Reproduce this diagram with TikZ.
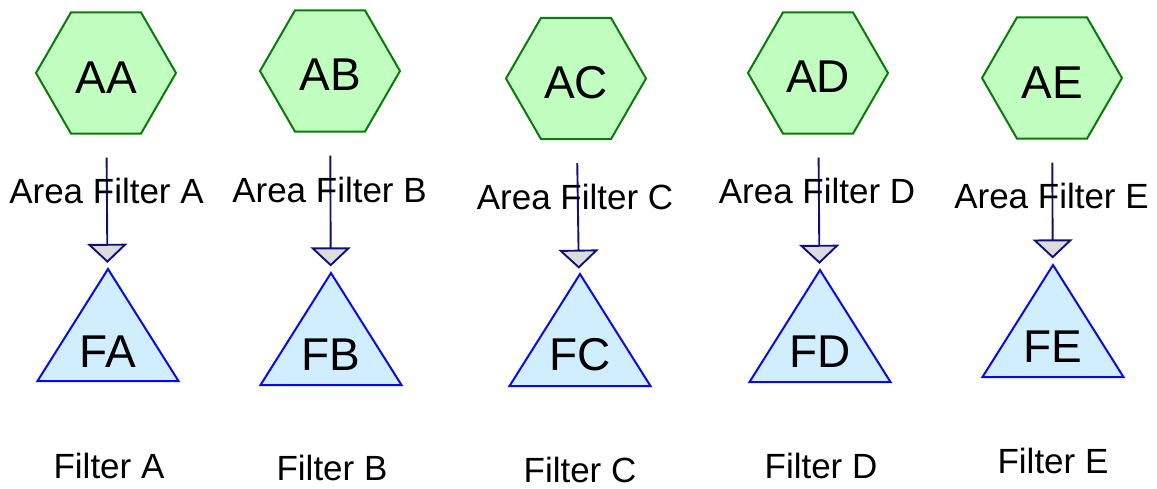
\documentclass[tikz,border=0pt]{standalone}
\usepackage{fontspec}
\setmainfont{Liberation Sans}
\usetikzlibrary{shapes.geometric,arrows.meta}
\definecolor{hexfill}{HTML}{C0FFC0}
\definecolor{hexline}{HTML}{0A7A0A}
\definecolor{trifill}{HTML}{D0EEFF}
\definecolor{triline}{HTML}{0A0AE6}
\definecolor{connline}{HTML}{10107A}
\definecolor{tipfill}{HTML}{DCDCDC}
\begin{document}
\begin{tikzpicture}[x=1pt,y=-1pt,
  hexnode/.style={regular polygon, regular polygon sides=6, minimum size=140pt,
    inner sep=0pt, outer sep=0pt, draw=hexline, fill=hexfill, line width=2pt},
  trinode/.style={isosceles triangle, shape border rotate=90, isosceles triangle stretches,
    minimum width=141pt, minimum height=112pt, inner sep=0pt, outer sep=0pt,
    draw=triline, fill=trifill, line width=2pt, anchor=apex},
  conn/.style={draw=connline, line width=1.9pt, shorten <=24pt, shorten >=7pt,
    -{Triangle[width=40pt,length=19pt,fill=tipfill]}},
  bigtxt/.style={font=\fontsize{46}{50}\selectfont, anchor=base, inner sep=0pt},
  lbl/.style={font=\fontsize{35}{40}\selectfont, anchor=base, inner sep=0pt}
]
\useasboundingbox (0,0) rectangle (1157,488);
% column A
\node[hexnode] (ha) at (106,73) {};
\node[bigtxt] (hta) at (106,93) {AA};
\node[trinode] (ta) at (108,269) {};
\node[bigtxt] (tta) at (108,367) {FA};
\draw[conn] (ha) -- (ta);
\node[lbl] (la) at (106.5,203) {Area Filter A};
\node[lbl] (fa) at (109,478) {Filter A};
% column B
\node[hexnode] (hb) at (330,71) {};
\node[bigtxt] (htb) at (330,90) {AB};
\node[trinode] (tb) at (331,273) {};
\node[bigtxt] (ttb) at (331,370) {FB};
\draw[conn] (hb) -- (tb);
\node[lbl] (lb) at (329.5,202) {Area Filter B};
\node[lbl] (fb) at (332,480) {Filter B};
% column C
\node[hexnode] (hc) at (576,78.5) {};
\node[bigtxt] (htc) at (576,98) {AC};
\node[trinode] (tc) at (580,274) {};
\node[bigtxt] (ttc) at (580,370) {FC};
\draw[conn] (hc) -- (tc);
\node[lbl] (lc) at (575,209) {Area Filter C};
\node[lbl] (fc) at (580,482) {Filter C};
% column D
\node[hexnode] (hd) at (818,73) {};
\node[bigtxt] (htd) at (818,92) {AD};
\node[trinode] (td) at (820,270) {};
\node[bigtxt] (ttd) at (820,367) {FD};
\draw[conn] (hd) -- (td);
\node[lbl] (ld) at (817,203) {Area Filter D};
\node[lbl] (fd) at (821,478) {Filter D};
% column E
\node[hexnode] (he) at (1052,78) {};
\node[bigtxt] (hte) at (1052,98) {AE};
\node[trinode] (te) at (1053,265) {};
\node[bigtxt] (tte) at (1053,362) {FE};
\draw[conn] (he) -- (te);
\node[lbl] (le) at (1051.5,208) {Area Filter E};
\node[lbl] (fe) at (1053,473) {Filter E};
\end{tikzpicture}
\end{document}
